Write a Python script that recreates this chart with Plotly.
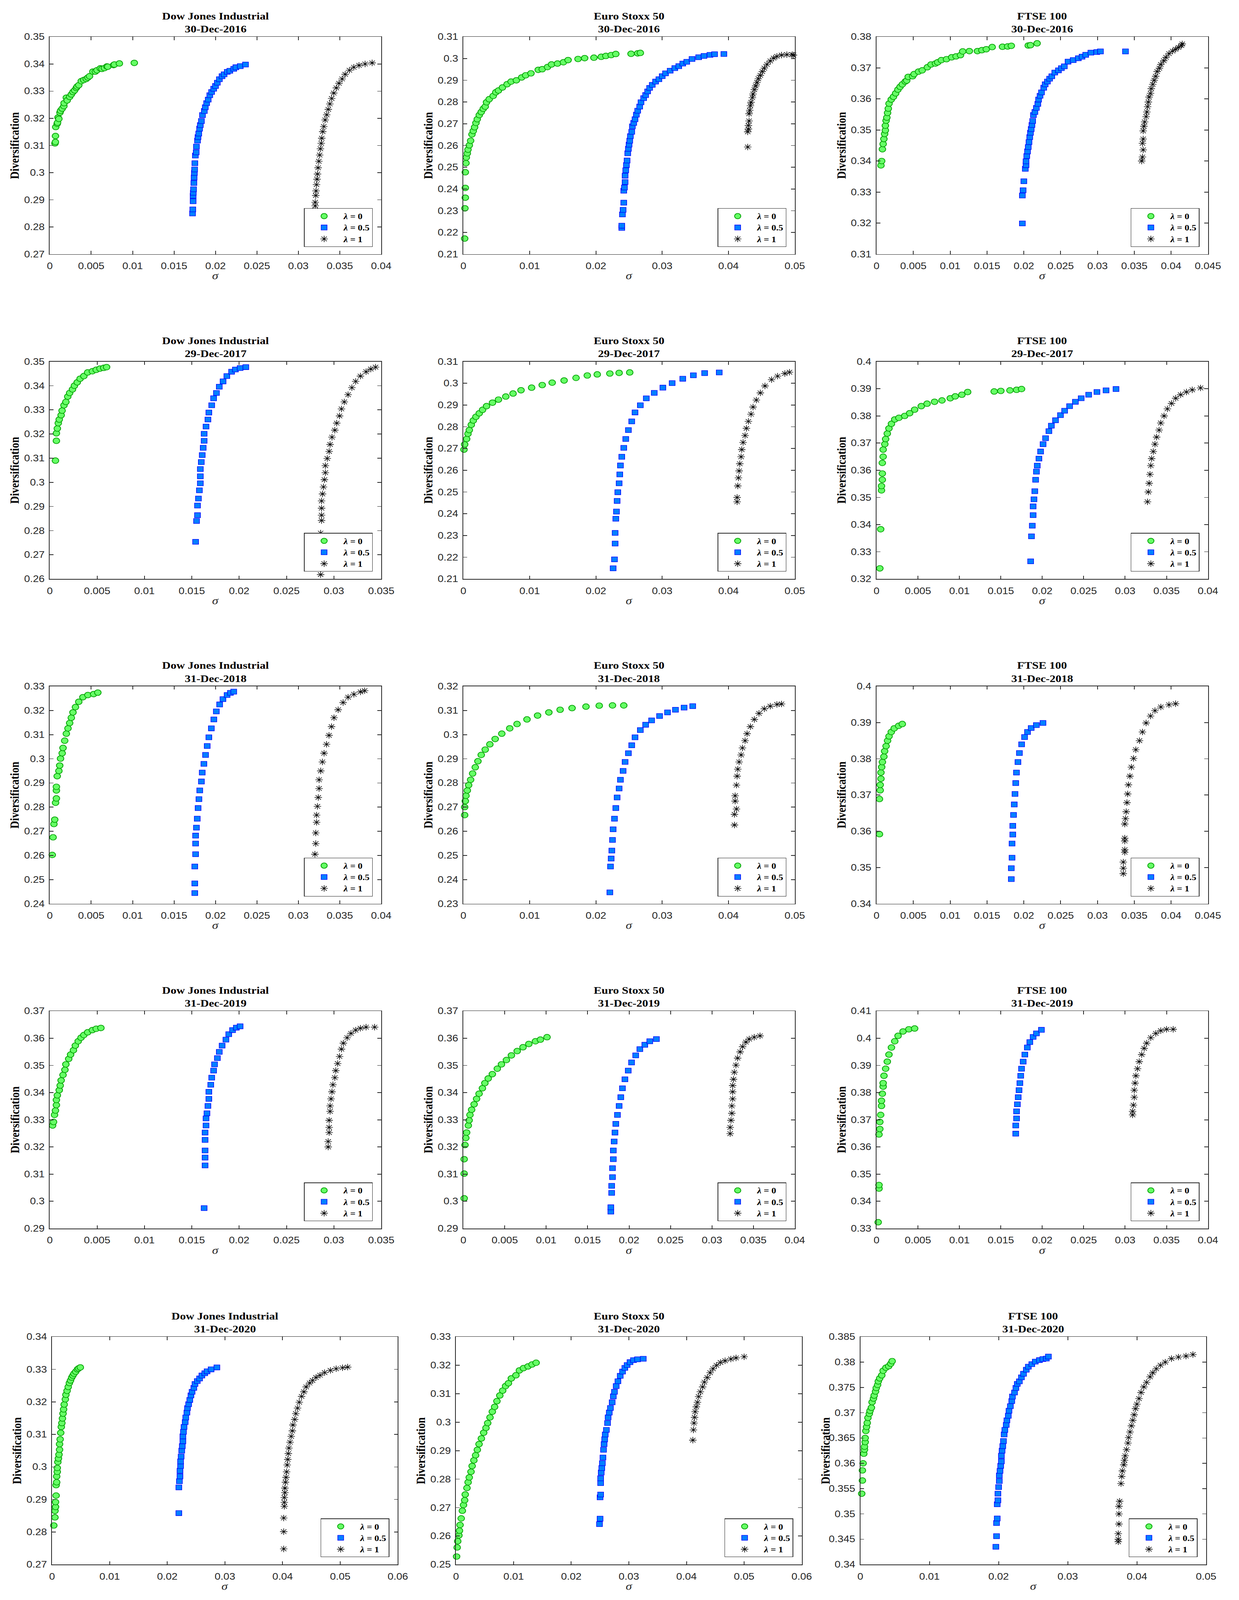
import plotly.graph_objects as go

W, H = 3172, 4798

# ---------------- data: (sigma, diversification) pairs ----------------
# Dow Jones Industrial, 30-Dec-2016
DJ16_L0 = [(0.00063,0.3108),(0.00068,0.3113),(0.00069,0.3135),(0.00072,0.3168),(0.0009,0.318),(0.00094,0.3184),(0.001,0.3203),(0.0011,0.3198),(0.00123,0.3221),(0.0013,0.3228),(0.0015,0.3236),(0.0017,0.3245),(0.00173,0.3256),(0.002,0.3276),(0.0021,0.3266),(0.0024,0.3279),(0.0026,0.3288),(0.0028,0.3297),(0.003,0.3303),(0.0032,0.3312),(0.0033,0.3317),(0.0035,0.3322),(0.0038,0.3337),(0.0041,0.3341),(0.0044,0.3345),(0.0046,0.335),(0.0048,0.3355),(0.0052,0.3372),(0.0055,0.3372),(0.0057,0.3377),(0.0061,0.3384),(0.0063,0.3382),(0.0066,0.3385),(0.0069,0.3391),(0.007,0.339),(0.0077,0.3396),(0.0078,0.3398),(0.0084,0.3402),(0.0102,0.3404)]
DJ16_L05 = [(0.01723,0.285),(0.01726,0.2865),(0.0173,0.2895),(0.0173,0.2915),(0.01732,0.2926),(0.01735,0.2939),(0.01739,0.2962),(0.01742,0.2982),(0.01745,0.2999),(0.01748,0.3012),(0.01751,0.3035),(0.01757,0.3063),(0.01767,0.3075),(0.0177,0.3096),(0.01783,0.3118),(0.01789,0.3131),(0.01798,0.3144),(0.01808,0.3162),(0.01817,0.3175),(0.0183,0.319),(0.01843,0.3212),(0.01865,0.3227),(0.01877,0.3241),(0.01893,0.3256),(0.01912,0.3269),(0.01931,0.3285),(0.01953,0.3297),(0.01978,0.3309),(0.02,0.3319),(0.02022,0.3331),(0.02047,0.3344),(0.02079,0.3355),(0.02104,0.3362),(0.02142,0.3371),(0.02173,0.3375),(0.0222,0.3382),(0.02246,0.3388),(0.02299,0.3392),(0.02362,0.3398)]
DJ16_L1 = [(0.03203,0.2863),(0.03203,0.2878),(0.03203,0.2891),(0.0321,0.2916),(0.03213,0.2933),(0.03219,0.2956),(0.03225,0.2976),(0.03231,0.2995),(0.03238,0.3018),(0.03247,0.3042),(0.03257,0.3065),(0.03266,0.3088),(0.03276,0.3108),(0.03282,0.3127),(0.03294,0.3151),(0.03307,0.317),(0.03323,0.3194),(0.03342,0.3213),(0.03361,0.3233),(0.0338,0.3253),(0.03402,0.3273),(0.03427,0.3293),(0.03458,0.3312),(0.0349,0.3329),(0.03528,0.3345),(0.03565,0.3362),(0.03616,0.3377),(0.03669,0.3388),(0.03732,0.3395),(0.03805,0.34),(0.0389,0.3404)]

# Euro Stoxx 50, 30-Dec-2016
ES16_L0 = [(0.0002,0.2172),(0.00024,0.2311),(0.0003,0.236),(0.0003,0.2405),(0.0003,0.2477),(0.0004,0.2519),(0.00045,0.2545),(0.0006,0.2564),(0.0007,0.2581),(0.0009,0.2601),(0.0011,0.2622),(0.0013,0.2651),(0.0015,0.2667),(0.0017,0.2684),(0.0019,0.2704),(0.0021,0.2721),(0.0024,0.274),(0.0027,0.2754),(0.003,0.2769),(0.0033,0.2779),(0.0035,0.2799),(0.0039,0.2813),(0.0045,0.2828),(0.0049,0.2845),(0.0053,0.2853),(0.0059,0.2867),(0.0066,0.2882),(0.0072,0.2894),(0.008,0.29),(0.0088,0.2913),(0.0094,0.2923),(0.0102,0.2932),(0.0113,0.2948),(0.0119,0.2951),(0.0127,0.2961),(0.0133,0.2973),(0.0142,0.2977),(0.0151,0.2983),(0.0158,0.2993),(0.0173,0.2998),(0.0183,0.3002),(0.0197,0.3004),(0.0208,0.3008),(0.0215,0.3012),(0.0223,0.3016),(0.023,0.3021),(0.0253,0.3022),(0.0263,0.3024),(0.0267,0.3026)]
ES16_L05 = [(0.0239,0.2221),(0.0239,0.2231),(0.024,0.2283),(0.0241,0.2304),(0.0242,0.2337),(0.0242,0.2392),(0.0243,0.2407),(0.0244,0.2432),(0.0244,0.2461),(0.0245,0.2486),(0.0246,0.251),(0.0247,0.2531),(0.0248,0.2564),(0.0249,0.2585),(0.025,0.2604),(0.0251,0.2622),(0.0252,0.2643),(0.0254,0.2663),(0.0255,0.2688),(0.0257,0.2704),(0.0259,0.2721),(0.0261,0.2742),(0.0263,0.276),(0.0266,0.2779),(0.0268,0.2799),(0.0272,0.2818),(0.0275,0.2832),(0.0278,0.2849),(0.0281,0.2865),(0.0285,0.2879),(0.029,0.2894),(0.0295,0.2905),(0.03,0.2919),(0.0305,0.2932),(0.0312,0.2944),(0.0319,0.2956),(0.0325,0.2965),(0.0331,0.2977),(0.0337,0.2985),(0.0345,0.2998),(0.0355,0.3006),(0.0363,0.3012),(0.0372,0.3017),(0.0379,0.302),(0.0393,0.3021)]
ES16_L1 = [(0.0429,0.2593),(0.0429,0.2663),(0.043,0.2676),(0.043,0.2692),(0.0431,0.2713),(0.0431,0.2746),(0.0432,0.2762),(0.0433,0.2783),(0.0434,0.2799),(0.0436,0.282),(0.0437,0.2837),(0.0439,0.2857),(0.0441,0.2874),(0.0443,0.289),(0.0445,0.2907),(0.0448,0.2923),(0.0451,0.294),(0.0454,0.2956),(0.0458,0.2973),(0.0463,0.2989),(0.0468,0.3002),(0.0473,0.301),(0.048,0.3016),(0.0488,0.3018),(0.0496,0.3018),(0.0498,0.3016)]

# FTSE 100, 30-Dec-2016
FT16_L0 = [(0.0006,0.3386),(0.0007,0.34),(0.0008,0.3438),(0.0009,0.3455),(0.001,0.3471),(0.0011,0.3487),(0.0012,0.3499),(0.0012,0.3514),(0.0013,0.353),(0.0014,0.354),(0.0015,0.3555),(0.0016,0.3569),(0.0017,0.3585),(0.002,0.3598),(0.0023,0.3607),(0.0026,0.3618),(0.0029,0.363),(0.0032,0.3639),(0.0035,0.3647),(0.0039,0.3656),(0.0041,0.3659),(0.0043,0.3671),(0.0049,0.3673),(0.0051,0.368),(0.0057,0.3688),(0.0062,0.3692),(0.0069,0.3702),(0.0074,0.3711),(0.008,0.3714),(0.0083,0.3718),(0.0088,0.3725),(0.0095,0.3728),(0.0102,0.3734),(0.0108,0.3737),(0.0114,0.3741),(0.0117,0.3753),(0.0126,0.3754),(0.0137,0.3754),(0.0143,0.3757),(0.0149,0.376),(0.0157,0.3767),(0.0171,0.3768),(0.0178,0.3769),(0.0183,0.3771),(0.0206,0.3772),(0.0209,0.3773),(0.0218,0.3779)]
FT16_L05 = [(0.0198,0.3199),(0.0198,0.3289),(0.0199,0.3306),(0.02,0.3335),(0.0202,0.3375),(0.0203,0.3387),(0.0203,0.3399),(0.0204,0.3416),(0.0205,0.3431),(0.0206,0.3445),(0.0207,0.3461),(0.0208,0.3477),(0.0209,0.3491),(0.021,0.3503),(0.0211,0.3516),(0.0212,0.3529),(0.0213,0.3548),(0.0215,0.3558),(0.0217,0.3571),(0.0219,0.3584),(0.022,0.3598),(0.0222,0.361),(0.0224,0.3621),(0.0227,0.3636),(0.0229,0.3647),(0.0232,0.3656),(0.0235,0.3665),(0.0238,0.3673),(0.0242,0.3685),(0.0247,0.3692),(0.0251,0.3699),(0.0255,0.3705),(0.026,0.372),(0.0267,0.3725),(0.0274,0.3731),(0.0279,0.3736),(0.0284,0.3742),(0.0291,0.3749),(0.0299,0.3751),(0.0304,0.3753),(0.0338,0.3753)]
FT16_L1 = [(0.036,0.34),(0.0361,0.3413),(0.0362,0.3436),(0.0361,0.3457),(0.0362,0.3471),(0.0362,0.3497),(0.0363,0.3512),(0.0364,0.3526),(0.0366,0.3543),(0.0367,0.3558),(0.0368,0.3575),(0.0369,0.359),(0.037,0.3606),(0.0372,0.3618),(0.0373,0.3633),(0.0375,0.3647),(0.0377,0.366),(0.0379,0.3673),(0.0381,0.3688),(0.0384,0.3699),(0.0386,0.3711),(0.039,0.3723),(0.0393,0.3734),(0.0397,0.3746),(0.0402,0.3754),(0.0406,0.376),(0.041,0.3766),(0.0414,0.3772),(0.0415,0.3777)]

# Dow Jones Industrial, 29-Dec-2017
DJ17_L0 = [(0.0006,0.309),(0.0007,0.3172),(0.0007,0.3203),(0.0008,0.3223),(0.0009,0.3245),(0.001,0.326),(0.0012,0.3278),(0.0013,0.3297),(0.0015,0.3319),(0.0017,0.3333),(0.0019,0.3355),(0.0021,0.337),(0.0024,0.3385),(0.0026,0.34),(0.0029,0.3414),(0.0032,0.3429),(0.0036,0.344),(0.004,0.3455),(0.0045,0.346),(0.0049,0.3466),(0.0053,0.3471),(0.0057,0.3474),(0.006,0.3477)]
DJ17_L05 = [(0.0154,0.2754),(0.0155,0.284),(0.0156,0.2864),(0.0156,0.2904),(0.0157,0.2933),(0.0158,0.2967),(0.0159,0.2996),(0.0159,0.3025),(0.0159,0.3055),(0.016,0.3084),(0.0161,0.3113),(0.0162,0.3143),(0.0163,0.3172),(0.0163,0.3201),(0.0165,0.3231),(0.0167,0.326),(0.0168,0.3289),(0.0171,0.3319),(0.0173,0.3348),(0.0176,0.337),(0.0179,0.3396),(0.0183,0.3418),(0.0187,0.344),(0.0192,0.3458),(0.0196,0.3467),(0.0201,0.3473),(0.0207,0.3477)]
DJ17_L1 = [(0.0286,0.2618),(0.0286,0.2768),(0.0286,0.279),(0.0287,0.2842),(0.0287,0.2864),(0.0287,0.2893),(0.0287,0.2923),(0.0288,0.2952),(0.0289,0.2981),(0.029,0.3011),(0.0291,0.304),(0.0291,0.3069),(0.0293,0.3099),(0.0295,0.3128),(0.0296,0.3157),(0.0298,0.3187),(0.0301,0.3216),(0.0303,0.3245),(0.0306,0.3275),(0.0308,0.3304),(0.0311,0.3333),(0.0315,0.3363),(0.0319,0.3392),(0.0323,0.3418),(0.0328,0.344),(0.0334,0.3458),(0.0339,0.3469),(0.0344,0.3477)]

# Euro Stoxx 50, 29-Dec-2017
ES17_L0 = [(0.0001,0.2695),(0.0002,0.2719),(0.0005,0.2744),(0.0007,0.2768),(0.0009,0.2785),(0.0012,0.2809),(0.0015,0.2829),(0.0019,0.2846),(0.0024,0.2862),(0.0029,0.2878),(0.0035,0.2895),(0.0044,0.2911),(0.0053,0.2925),(0.0064,0.2939),(0.0075,0.2953),(0.0087,0.2968),(0.0103,0.298),(0.0119,0.2992),(0.0134,0.3003),(0.0152,0.3013),(0.017,0.3025),(0.0187,0.3036),(0.0202,0.3041),(0.0221,0.3045),(0.0235,0.3048),(0.0251,0.305)]
ES17_L05 = [(0.0226,0.2149),(0.0228,0.219),(0.0229,0.2263),(0.0229,0.2312),(0.023,0.2377),(0.0231,0.241),(0.0232,0.2459),(0.0233,0.2499),(0.0235,0.254),(0.0236,0.2581),(0.0237,0.2622),(0.0239,0.2662),(0.0242,0.2703),(0.0245,0.2744),(0.0249,0.2785),(0.0254,0.2825),(0.0259,0.2866),(0.0267,0.2899),(0.0276,0.2931),(0.0288,0.2956),(0.0301,0.298),(0.0315,0.3001),(0.0331,0.3021),(0.0347,0.3037),(0.0364,0.3047),(0.0386,0.305)]
ES17_L1 = [(0.0413,0.2455),(0.0413,0.2475),(0.0414,0.2528),(0.0415,0.2565),(0.0416,0.2597),(0.0417,0.263),(0.0419,0.2662),(0.042,0.2695),(0.0422,0.2728),(0.0425,0.276),(0.0427,0.2793),(0.043,0.2825),(0.0434,0.2858),(0.0437,0.2891),(0.0442,0.2923),(0.0448,0.2956),(0.0455,0.2988),(0.0465,0.3017),(0.0474,0.3033),(0.0485,0.3045),(0.0492,0.3051)]

# FTSE 100, 29-Dec-2017
FT17_L0 = [(0.0004,0.3239),(0.0005,0.3383),(0.0006,0.3526),(0.0006,0.3542),(0.0007,0.3565),(0.0007,0.3588),(0.0007,0.3627),(0.0008,0.365),(0.0008,0.3676),(0.001,0.3696),(0.0011,0.3715),(0.0013,0.3735),(0.0015,0.3754),(0.0018,0.3771),(0.0022,0.3787),(0.0027,0.3793),(0.0034,0.38),(0.004,0.381),(0.0046,0.3823),(0.0054,0.3836),(0.0061,0.3845),(0.007,0.3852),(0.0079,0.3857),(0.0089,0.3865),(0.0095,0.3872),(0.0103,0.3878),(0.011,0.3888),(0.0142,0.389),(0.015,0.3892),(0.0161,0.3894),(0.0169,0.3896),(0.0175,0.3899)]
FT17_L05 = [(0.0186,0.3265),(0.0187,0.3357),(0.0188,0.3396),(0.0189,0.3435),(0.0189,0.3467),(0.019,0.3493),(0.0191,0.3523),(0.0192,0.3565),(0.0193,0.3595),(0.0194,0.3617),(0.0196,0.3643),(0.0198,0.3669),(0.0201,0.3696),(0.0204,0.3718),(0.0208,0.3744),(0.0211,0.3764),(0.0216,0.3784),(0.0222,0.3803),(0.0227,0.3819),(0.0233,0.3836),(0.024,0.3852),(0.0247,0.3865),(0.0256,0.3878),(0.0266,0.3888),(0.0277,0.3894),(0.0289,0.3899)]
FT17_L1 = [(0.0327,0.3484),(0.0328,0.352),(0.0329,0.3552),(0.033,0.3585),(0.0331,0.3617),(0.0332,0.3643),(0.0334,0.3669),(0.0336,0.3696),(0.0338,0.3722),(0.0341,0.3748),(0.0343,0.3774),(0.0347,0.38),(0.0351,0.3826),(0.0356,0.3846),(0.0361,0.3865),(0.0367,0.3878),(0.0374,0.3888),(0.0381,0.3896),(0.0391,0.3903)]

# Dow Jones Industrial, 31-Dec-2018
DJ18_L0 = [(0.0003,0.2602),(0.0004,0.2675),(0.0005,0.273),(0.0006,0.2748),(0.0007,0.2818),(0.0008,0.2836),(0.0008,0.2869),(0.0008,0.2884),(0.0009,0.2928),(0.0011,0.295),(0.0012,0.2972),(0.0013,0.3001),(0.0015,0.3023),(0.0016,0.3045),(0.0018,0.3075),(0.002,0.3104),(0.0022,0.3126),(0.0024,0.3148),(0.0026,0.317),(0.0028,0.3192),(0.0031,0.3214),(0.0035,0.3236),(0.004,0.3255),(0.0046,0.3264),(0.0053,0.3268),(0.0058,0.3274)]
DJ18_L05 = [(0.0175,0.2444),(0.0175,0.2484),(0.0175,0.2554),(0.0176,0.2605),(0.0176,0.2649),(0.0176,0.2682),(0.0177,0.2715),(0.0178,0.2752),(0.0179,0.2796),(0.018,0.2833),(0.0181,0.2869),(0.0183,0.2906),(0.0184,0.2943),(0.0186,0.2979),(0.0188,0.3016),(0.019,0.3053),(0.0192,0.3089),(0.0195,0.3126),(0.0198,0.3163),(0.0201,0.3196),(0.0205,0.3225),(0.0209,0.3247),(0.0214,0.3264),(0.0218,0.3273),(0.0222,0.3278)]
DJ18_L1 = [(0.032,0.2569),(0.032,0.2605),(0.0321,0.2649),(0.0321,0.2693),(0.0322,0.2737),(0.0322,0.2767),(0.0323,0.2803),(0.0324,0.284),(0.0325,0.2877),(0.0325,0.2913),(0.0327,0.295),(0.0329,0.2987),(0.0331,0.3023),(0.0334,0.306),(0.0337,0.3097),(0.034,0.3133),(0.0343,0.317),(0.0348,0.3203),(0.0354,0.3233),(0.036,0.3255),(0.0367,0.3267),(0.0375,0.3277),(0.038,0.3282)]

# Euro Stoxx 50, 31-Dec-2018
ES18_L0 = [(0.0002,0.2667),(0.0002,0.27),(0.0003,0.2725),(0.0004,0.2747),(0.0006,0.2769),(0.0008,0.2791),(0.0011,0.2813),(0.0014,0.2839),(0.0018,0.2865),(0.0022,0.289),(0.0027,0.2916),(0.0033,0.2938),(0.004,0.296),(0.0048,0.2982),(0.0058,0.3004),(0.007,0.3026),(0.0081,0.3044),(0.0096,0.3063),(0.0112,0.3079),(0.0129,0.3092),(0.0146,0.3103),(0.0164,0.311),(0.0185,0.3116),(0.0205,0.312),(0.0225,0.3121),(0.0242,0.3121)]
ES18_L05 = [(0.0221,0.2347),(0.0222,0.2454),(0.0223,0.2487),(0.0224,0.252),(0.0225,0.2564),(0.0226,0.2608),(0.0228,0.2652),(0.023,0.2696),(0.0232,0.274),(0.0235,0.2777),(0.0237,0.2813),(0.0241,0.285),(0.0244,0.2887),(0.0249,0.2923),(0.0254,0.2956),(0.0259,0.2989),(0.0267,0.3019),(0.0275,0.3041),(0.0284,0.3059),(0.0296,0.3077),(0.0308,0.3092),(0.032,0.3103),(0.0333,0.3112),(0.0346,0.3118)]
ES18_L1 = [(0.0409,0.2626),(0.0409,0.267),(0.0412,0.2692),(0.041,0.2725),(0.041,0.2747),(0.0412,0.2791),(0.0413,0.2828),(0.0414,0.2857),(0.0416,0.2887),(0.0419,0.2916),(0.0421,0.2945),(0.0425,0.2975),(0.0428,0.3004),(0.0433,0.3033),(0.0439,0.3063),(0.0446,0.3088),(0.0454,0.3107),(0.0463,0.3118),(0.0473,0.3125),(0.048,0.3127)]

# FTSE 100, 31-Dec-2018
FT18_L0 = [(0.0004,0.3592),(0.0004,0.3689),(0.0005,0.3713),(0.0005,0.3728),(0.0006,0.3745),(0.0006,0.3762),(0.0007,0.3777),(0.0008,0.3791),(0.001,0.3806),(0.0011,0.3821),(0.0013,0.3835),(0.0015,0.385),(0.0017,0.3862),(0.002,0.3874),(0.0024,0.3884),(0.003,0.3891),(0.0035,0.3896)]
FT18_L05 = [(0.0183,0.3468),(0.0183,0.3498),(0.0184,0.3527),(0.0184,0.3566),(0.0185,0.3591),(0.0185,0.3615),(0.0186,0.3645),(0.0187,0.3674),(0.0188,0.3703),(0.0189,0.3733),(0.019,0.3762),(0.0192,0.3791),(0.0194,0.3816),(0.0197,0.384),(0.0201,0.386),(0.0205,0.3874),(0.021,0.3885),(0.0217,0.3893),(0.0226,0.3899)]
FT18_L1 = [(0.0335,0.3483),(0.0335,0.3498),(0.0335,0.3515),(0.0337,0.3542),(0.0337,0.3549),(0.0337,0.3573),(0.0337,0.3581),(0.0337,0.362),(0.0338,0.3635),(0.0339,0.3654),(0.034,0.3679),(0.0341,0.3703),(0.0342,0.3728),(0.0344,0.3752),(0.0346,0.3777),(0.0349,0.3801),(0.0352,0.3825),(0.0357,0.385),(0.0361,0.3874),(0.0366,0.3899),(0.0372,0.3918),(0.0378,0.3933),(0.0386,0.3943),(0.0397,0.3949),(0.0406,0.3952)]

# Dow Jones Industrial, 31-Dec-2019
DJ19_L0 = [(0.0003,0.3279),(0.0004,0.3292),(0.0005,0.3318),(0.0006,0.3334),(0.0007,0.3354),(0.0007,0.3373),(0.0008,0.339),(0.001,0.3409),(0.0011,0.3426),(0.0012,0.3445),(0.0014,0.3465),(0.0016,0.3484),(0.0017,0.3504),(0.002,0.3524),(0.0022,0.354),(0.0025,0.3556),(0.0027,0.3573),(0.003,0.3589),(0.0033,0.3602),(0.0036,0.3612),(0.004,0.3622),(0.0045,0.363),(0.0049,0.3635),(0.0054,0.3638)]
DJ19_L05 = [(0.0163,0.2975),(0.0164,0.3132),(0.0164,0.3161),(0.0164,0.3187),(0.0164,0.3226),(0.0164,0.3253),(0.0165,0.3279),(0.0165,0.3305),(0.0166,0.3324),(0.0167,0.3351),(0.0168,0.3377),(0.0168,0.3403),(0.017,0.3429),(0.0171,0.3455),(0.0173,0.3481),(0.0174,0.3504),(0.0177,0.3527),(0.0179,0.355),(0.0182,0.3573),(0.0186,0.3595),(0.0189,0.3615),(0.0193,0.363),(0.0197,0.3639),(0.0201,0.3644)]
DJ19_L1 = [(0.0294,0.32),(0.0294,0.322),(0.0295,0.3253),(0.0295,0.3272),(0.0295,0.3298),(0.0296,0.3331),(0.0296,0.3351),(0.0297,0.3377),(0.0298,0.3403),(0.0299,0.3429),(0.0301,0.3455),(0.0302,0.3481),(0.0304,0.3507),(0.0306,0.3533),(0.0308,0.356),(0.031,0.3582),(0.0314,0.3602),(0.0318,0.3618),(0.0323,0.363),(0.0328,0.3637),(0.0334,0.3641),(0.0343,0.3641)]

# Euro Stoxx 50, 31-Dec-2019
ES19_L0 = [(0.0001,0.3011),(0.0001,0.3102),(0.0001,0.3155),(0.0002,0.3207),(0.0003,0.3233),(0.0004,0.3253),(0.0006,0.3279),(0.0007,0.3298),(0.0008,0.3318),(0.001,0.3337),(0.0013,0.3357),(0.0016,0.3377),(0.0019,0.3396),(0.0023,0.3416),(0.0026,0.3435),(0.003,0.3452),(0.0035,0.3468),(0.0041,0.3488),(0.0046,0.3504),(0.0052,0.352),(0.0058,0.3537),(0.0065,0.3553),(0.0072,0.3567),(0.0079,0.3579),(0.0087,0.3589),(0.0093,0.3595),(0.0101,0.3604)]
ES19_L05 = [(0.0178,0.2962),(0.0178,0.2978),(0.0179,0.3031),(0.0179,0.3057),(0.018,0.3089),(0.018,0.3122),(0.0181,0.3155),(0.0181,0.3187),(0.0182,0.322),(0.0183,0.3253),(0.0184,0.3285),(0.0186,0.3318),(0.0188,0.3351),(0.019,0.3383),(0.0192,0.3416),(0.0195,0.3449),(0.0199,0.3481),(0.0203,0.3511),(0.0208,0.3537),(0.0213,0.356),(0.0219,0.3576),(0.0225,0.3589),(0.0233,0.3597)]
ES19_L1 = [(0.0322,0.3249),(0.0322,0.3272),(0.0323,0.3298),(0.0324,0.3324),(0.0324,0.3351),(0.0325,0.3377),(0.0325,0.3403),(0.0325,0.3426),(0.0326,0.3449),(0.0327,0.3475),(0.0329,0.3501),(0.0331,0.3527),(0.0334,0.355),(0.0337,0.3569),(0.0341,0.3586),(0.0345,0.3597),(0.0351,0.3604),(0.0358,0.3609)]

# FTSE 100, 31-Dec-2019
FT19_L0 = [(0.0002,0.3323),(0.0003,0.3447),(0.0003,0.346),(0.0003,0.3646),(0.0004,0.3666),(0.0004,0.3692),(0.0005,0.3718),(0.0006,0.3751),(0.0006,0.377),(0.0007,0.3796),(0.0008,0.3822),(0.0008,0.3835),(0.0009,0.3862),(0.0011,0.3888),(0.0013,0.3914),(0.0015,0.394),(0.0018,0.3966),(0.0022,0.3989),(0.0026,0.4009),(0.0032,0.4025),(0.0039,0.4033),(0.0046,0.4036)]
FT19_L05 = [(0.0168,0.3649),(0.0168,0.3679),(0.0169,0.3705),(0.0169,0.3731),(0.017,0.3757),(0.0171,0.3783),(0.0172,0.3809),(0.0173,0.3835),(0.0174,0.3862),(0.0175,0.3888),(0.0177,0.3914),(0.0179,0.394),(0.0182,0.3966),(0.0185,0.3986),(0.0189,0.4005),(0.0193,0.4018),(0.0199,0.4031)]
FT19_L1 = [(0.0309,0.3718),(0.0309,0.3731),(0.031,0.3754),(0.0311,0.3783),(0.0311,0.3809),(0.0312,0.3835),(0.0313,0.3862),(0.0315,0.3888),(0.0317,0.3914),(0.032,0.394),(0.0323,0.3963),(0.0326,0.3982),(0.0331,0.4002),(0.0337,0.4018),(0.0343,0.4028),(0.035,0.4033),(0.0358,0.4033)]

# Dow Jones Industrial, 31-Dec-2020
DJ20_L0 = [(0.0003,0.282),(0.0005,0.2845),(0.0005,0.2865),(0.0006,0.2877),(0.0006,0.2892),(0.0007,0.2912),(0.0007,0.2944),(0.0008,0.2953),(0.0008,0.2971),(0.0009,0.2985),(0.0009,0.2997),(0.001,0.3015),(0.0011,0.3026),(0.0012,0.3038),(0.0013,0.3053),(0.0013,0.307),(0.0014,0.3085),(0.0015,0.3105),(0.0016,0.3123),(0.0017,0.3135),(0.0018,0.3149),(0.0019,0.3164),(0.002,0.3177),(0.0021,0.3192),(0.0023,0.3208),(0.0024,0.3222),(0.0026,0.3234),(0.0028,0.3246),(0.003,0.3258),(0.0032,0.3266),(0.0034,0.3275),(0.0036,0.3281),(0.0038,0.3287),(0.0041,0.3293),(0.0044,0.33),(0.0046,0.3303),(0.0049,0.3306)]
DJ20_L05 = [(0.022,0.2858),(0.022,0.2937),(0.0221,0.2956),(0.0222,0.2971),(0.0222,0.2988),(0.0223,0.3003),(0.0223,0.3017),(0.0224,0.3032),(0.0225,0.305),(0.0226,0.3064),(0.0227,0.3079),(0.0227,0.3094),(0.0228,0.3108),(0.0229,0.3123),(0.0231,0.3138),(0.0232,0.3152),(0.0234,0.3167),(0.0235,0.3181),(0.0237,0.3193),(0.0239,0.3206),(0.0241,0.322),(0.0243,0.3231),(0.0246,0.3243),(0.0248,0.3255),(0.0252,0.3264),(0.0256,0.3272),(0.026,0.3281),(0.0265,0.3288),(0.0269,0.3294),(0.0276,0.33),(0.0286,0.3306)]
DJ20_L1 = [(0.0402,0.2748),(0.0402,0.2801),(0.0402,0.2843),(0.0403,0.2879),(0.0403,0.2891),(0.0403,0.2906),(0.0404,0.2921),(0.0404,0.2935),(0.0405,0.2953),(0.0406,0.2968),(0.0407,0.2985),(0.0408,0.3006),(0.0409,0.3023),(0.041,0.3041),(0.0411,0.3058),(0.0413,0.3076),(0.0415,0.3094),(0.0417,0.3111),(0.0418,0.3129),(0.0421,0.3146),(0.0423,0.3164),(0.0426,0.3181),(0.0429,0.3199),(0.0433,0.3217),(0.0437,0.3231),(0.0441,0.3246),(0.0447,0.3258),(0.0452,0.3266),(0.0458,0.3275),(0.0465,0.3282),(0.0473,0.329),(0.0483,0.3297),(0.0493,0.3302),(0.0504,0.3305),(0.0513,0.3307)]

# Euro Stoxx 50, 31-Dec-2020
ES20_L0 = [(0.0001,0.2528),(0.0002,0.256),(0.0003,0.2582),(0.0005,0.2602),(0.0006,0.2619),(0.0007,0.2639),(0.0009,0.2662),(0.0011,0.2689),(0.0013,0.2709),(0.0015,0.2726),(0.0016,0.2746),(0.0019,0.2769),(0.0021,0.2789),(0.0023,0.2806),(0.0026,0.2826),(0.0028,0.2846),(0.0031,0.2866),(0.0034,0.2884),(0.0037,0.2903),(0.004,0.2923),(0.0044,0.2943),(0.0048,0.2963),(0.0052,0.298),(0.0055,0.2997),(0.0059,0.3017),(0.0063,0.3037),(0.0067,0.3054),(0.0071,0.3074),(0.0076,0.3094),(0.0081,0.3111),(0.0086,0.3127),(0.0091,0.3137),(0.0096,0.3154),(0.0104,0.3165),(0.011,0.3182),(0.0117,0.319),(0.0125,0.3196),(0.0132,0.3203),(0.0139,0.3209)]
ES20_L05 = [(0.0249,0.2642),(0.025,0.2661),(0.025,0.2736),(0.0251,0.2746),(0.0251,0.2786),(0.0251,0.2803),(0.0252,0.2823),(0.0253,0.2839),(0.0254,0.2856),(0.0255,0.2876),(0.0256,0.2903),(0.0257,0.2923),(0.0258,0.294),(0.0259,0.2957),(0.0261,0.2973),(0.0263,0.2997),(0.0264,0.3017),(0.0266,0.3034),(0.0268,0.305),(0.0271,0.307),(0.0273,0.3091),(0.0275,0.3107),(0.0278,0.3127),(0.0281,0.3144),(0.0285,0.3163),(0.0289,0.3178),(0.0293,0.3191),(0.0297,0.3201),(0.0302,0.3211),(0.0308,0.3218),(0.0315,0.3221),(0.0325,0.3223)]
ES20_L1 = [(0.0411,0.2937),(0.0412,0.2973),(0.0413,0.2997),(0.0414,0.3017),(0.0415,0.3037),(0.0417,0.3054),(0.0419,0.307),(0.0421,0.309),(0.0424,0.3107),(0.0428,0.3124),(0.0431,0.3141),(0.0436,0.3157),(0.0441,0.3174),(0.0446,0.3188),(0.0452,0.32),(0.0459,0.321),(0.0467,0.3216),(0.0477,0.3222),(0.0486,0.3226),(0.05,0.323)]

# FTSE 100, 31-Dec-2020
FT20_L0 = [(0.0002,0.354),(0.0003,0.3566),(0.0003,0.3586),(0.0004,0.36),(0.0005,0.3619),(0.0006,0.3627),(0.0006,0.3633),(0.0007,0.3642),(0.0007,0.365),(0.0008,0.3664),(0.0009,0.3672),(0.001,0.368),(0.0011,0.369),(0.0013,0.3698),(0.0014,0.3704),(0.0016,0.371),(0.0017,0.3721),(0.0019,0.3728),(0.002,0.3734),(0.0022,0.3742),(0.0023,0.3749),(0.0025,0.3755),(0.0026,0.3762),(0.0028,0.3768),(0.0031,0.3774),(0.0033,0.3783),(0.0037,0.3789),(0.0041,0.3792),(0.0044,0.3797),(0.0046,0.3802)]
FT20_L05 = [(0.0196,0.3435),(0.0197,0.3456),(0.0197,0.3482),(0.0198,0.3491),(0.0198,0.3519),(0.0199,0.3527),(0.0199,0.354),(0.02,0.3553),(0.0201,0.3565),(0.0201,0.3576),(0.0202,0.3585),(0.0203,0.3595),(0.0204,0.3604),(0.0204,0.3615),(0.0205,0.3625),(0.0206,0.3634),(0.0207,0.3644),(0.0208,0.3657),(0.0209,0.3666),(0.0211,0.3676),(0.0212,0.3685),(0.0214,0.3694),(0.0215,0.3704),(0.0217,0.3713),(0.0219,0.3723),(0.022,0.3732),(0.0223,0.374),(0.0225,0.3749),(0.0227,0.3757),(0.023,0.3762),(0.0233,0.377),(0.0236,0.3777),(0.024,0.3785),(0.0243,0.3791),(0.0248,0.3796),(0.0253,0.3801),(0.0259,0.3804),(0.0264,0.3806),(0.0269,0.3807),(0.0272,0.3811)]
FT20_L1 = [(0.0373,0.3445),(0.0373,0.345),(0.0373,0.3461),(0.0374,0.348),(0.0374,0.35),(0.0374,0.3515),(0.0375,0.3525),(0.0377,0.356),(0.0378,0.3574),(0.0379,0.3585),(0.0381,0.3597),(0.0382,0.3606),(0.0383,0.3615),(0.0385,0.3627),(0.0387,0.364),(0.0388,0.3651),(0.039,0.3662),(0.0392,0.3674),(0.0394,0.3685),(0.0396,0.3696),(0.0398,0.3708),(0.04,0.3717),(0.0403,0.3728),(0.0406,0.374),(0.041,0.3751),(0.0414,0.376),(0.0419,0.3771),(0.0423,0.3779),(0.0428,0.3787),(0.0434,0.3794),(0.0441,0.38),(0.045,0.3807),(0.046,0.381),(0.0471,0.3812),(0.0481,0.3815)]

# ---------------- labels and axis ticks ----------------
INDEX_NAMES = ["Dow Jones Industrial", "Euro Stoxx 50", "FTSE 100"]
DATES = ["30-Dec-2016", "29-Dec-2017", "31-Dec-2018", "31-Dec-2019", "31-Dec-2020"]
SERIES_NAMES = ["<b><i>λ</i> = 0</b>", "<b><i>λ</i> = 0.5</b>", "<b><i>λ</i> = 1</b>"]

X_TICKS_035 = [0, 0.005, 0.01, 0.015, 0.02, 0.025, 0.03, 0.035]
X_TICKS_040 = [0, 0.005, 0.01, 0.015, 0.02, 0.025, 0.03, 0.035, 0.04]
X_TICKS_045 = [0, 0.005, 0.01, 0.015, 0.02, 0.025, 0.03, 0.035, 0.04, 0.045]
X_TICKS_050 = [0, 0.01, 0.02, 0.03, 0.04, 0.05]
X_TICKS_060 = [0, 0.01, 0.02, 0.03, 0.04, 0.05, 0.06]

Y_TICKS_DJ16 = [0.27, 0.28, 0.29, 0.30, 0.31, 0.32, 0.33, 0.34, 0.35]
Y_TICKS_ES16 = [0.21, 0.22, 0.23, 0.24, 0.25, 0.26, 0.27, 0.28, 0.29, 0.30, 0.31]
Y_TICKS_FT16 = [0.31, 0.32, 0.33, 0.34, 0.35, 0.36, 0.37, 0.38]
Y_TICKS_DJ17 = [0.26, 0.27, 0.28, 0.29, 0.30, 0.31, 0.32, 0.33, 0.34, 0.35]
Y_TICKS_ES17 = [0.21, 0.22, 0.23, 0.24, 0.25, 0.26, 0.27, 0.28, 0.29, 0.30, 0.31]
Y_TICKS_FT17 = [0.32, 0.33, 0.34, 0.35, 0.36, 0.37, 0.38, 0.39, 0.40]
Y_TICKS_DJ18 = [0.24, 0.25, 0.26, 0.27, 0.28, 0.29, 0.30, 0.31, 0.32, 0.33]
Y_TICKS_ES18 = [0.23, 0.24, 0.25, 0.26, 0.27, 0.28, 0.29, 0.30, 0.31, 0.32]
Y_TICKS_FT18 = [0.34, 0.35, 0.36, 0.37, 0.38, 0.39, 0.40]
Y_TICKS_DJ19 = [0.29, 0.30, 0.31, 0.32, 0.33, 0.34, 0.35, 0.36, 0.37]
Y_TICKS_ES19 = [0.29, 0.30, 0.31, 0.32, 0.33, 0.34, 0.35, 0.36, 0.37]
Y_TICKS_FT19 = [0.33, 0.34, 0.35, 0.36, 0.37, 0.38, 0.39, 0.40, 0.41]
Y_TICKS_DJ20 = [0.27, 0.28, 0.29, 0.30, 0.31, 0.32, 0.33, 0.34]
Y_TICKS_ES20 = [0.25, 0.26, 0.27, 0.28, 0.29, 0.30, 0.31, 0.32, 0.33]
Y_TICKS_FT20 = [0.34, 0.345, 0.35, 0.355, 0.36, 0.365, 0.37, 0.375, 0.38, 0.385]

PANELS = [
    (0, 0, [DJ16_L0, DJ16_L05, DJ16_L1], X_TICKS_040, Y_TICKS_DJ16),
    (0, 1, [ES16_L0, ES16_L05, ES16_L1], X_TICKS_050, Y_TICKS_ES16),
    (0, 2, [FT16_L0, FT16_L05, FT16_L1], X_TICKS_045, Y_TICKS_FT16),
    (1, 0, [DJ17_L0, DJ17_L05, DJ17_L1], X_TICKS_035, Y_TICKS_DJ17),
    (1, 1, [ES17_L0, ES17_L05, ES17_L1], X_TICKS_050, Y_TICKS_ES17),
    (1, 2, [FT17_L0, FT17_L05, FT17_L1], X_TICKS_040, Y_TICKS_FT17),
    (2, 0, [DJ18_L0, DJ18_L05, DJ18_L1], X_TICKS_040, Y_TICKS_DJ18),
    (2, 1, [ES18_L0, ES18_L05, ES18_L1], X_TICKS_050, Y_TICKS_ES18),
    (2, 2, [FT18_L0, FT18_L05, FT18_L1], X_TICKS_045, Y_TICKS_FT18),
    (3, 0, [DJ19_L0, DJ19_L05, DJ19_L1], X_TICKS_035, Y_TICKS_DJ19),
    (3, 1, [ES19_L0, ES19_L05, ES19_L1], X_TICKS_040, Y_TICKS_ES19),
    (3, 2, [FT19_L0, FT19_L05, FT19_L1], X_TICKS_040, Y_TICKS_FT19),
    (4, 0, [DJ20_L0, DJ20_L05, DJ20_L1], X_TICKS_060, Y_TICKS_DJ20),
    (4, 1, [ES20_L0, ES20_L05, ES20_L1], X_TICKS_060, Y_TICKS_ES20),
    (4, 2, [FT20_L0, FT20_L05, FT20_L1], X_TICKS_050, Y_TICKS_FT20),
]

# ---------------- styling ----------------
MARKERS = [
    dict(symbol="circle", size=17, color="#66FF66", line=dict(color="#00A000", width=2)),
    dict(symbol="square", size=15, color="#0080FF", line=dict(color="#0000FF", width=1.5)),
    dict(symbol="asterisk-open", size=16, color="black", line=dict(color="black", width=1.6)),
]
AX_COLOR = "#262626"
TICK_FONT = dict(family="Liberation Sans, Arial, sans-serif", size=27, color=AX_COLOR)
SERIF = "Liberation Serif, DejaVu Serif, serif"


def box(row, col):
    """pixel box (left, top, width, height) of a panel"""
    if row < 4:
        return [121, 1194, 2266][col], 96 + 980 * row, 860, 656
    return [127, 1175, 2224][col], 4019, 897, 687


def fmt(v):
    s = f"{v:.4f}".rstrip("0").rstrip(".")
    return s if s else "0"


fig = go.Figure()
layout = dict(
    width=W, height=H, margin=dict(l=0, r=0, t=0, b=0), autosize=False,
    paper_bgcolor="white", plot_bgcolor="white", annotations=[],
)

for i, (row, col, series, xt, yt) in enumerate(PANELS):
    n = i + 1
    sfx = "" if n == 1 else str(n)
    leg = "legend" if n == 1 else f"legend{n}"
    left, top, w, h = box(row, col)
    x0, x1 = left / W, (left + w) / W
    y0, y1 = 1 - (top + h) / H, 1 - top / H

    for pts, mk, name in zip(series, MARKERS, SERIES_NAMES):
        xs = [p[0] for p in pts]
        ys = [p[1] for p in pts]
        fig.add_trace(go.Scatter(
            x=xs, y=ys, mode="markers", marker=mk, name=name,
            xaxis=f"x{sfx}", yaxis=f"y{sfx}", legend=leg, showlegend=True,
            cliponaxis=False,
        ))

    common = dict(
        showline=True, linecolor=AX_COLOR, linewidth=1.5, mirror="ticks",
        ticks="inside", ticklen=10, tickwidth=1.5, tickcolor=AX_COLOR,
        showgrid=False, zeroline=False, tickfont=TICK_FONT,
    )
    layout[f"xaxis{sfx}"] = dict(
        common, domain=[x0, x1], anchor=f"y{sfx}", range=[xt[0], xt[-1]],
        tickmode="array", tickvals=xt, ticktext=[fmt(v) for v in xt],
        ticklabelstandoff=11,
    )
    layout[f"yaxis{sfx}"] = dict(
        common, domain=[y0, y1], anchor=f"x{sfx}", range=[yt[0], yt[-1]],
        tickmode="array", tickvals=yt, ticktext=[fmt(v) for v in yt],
        ticklabelstandoff=6,
    )

    # legend (inside, bottom-right)
    layout[leg] = dict(
        x=(left + w - 22) / W, y=1 - (top + h - 22) / H,
        xanchor="right", yanchor="bottom", xref="paper", yref="paper",
        bgcolor="white", bordercolor=AX_COLOR, borderwidth=1.5,
        font=dict(family=SERIF, size=24, color="black"),
        itemwidth=90, tracegroupgap=0, traceorder="normal",
    )

    cx = (left + w / 2) / W
    layout["annotations"] += [
        dict(text=f"<b>{INDEX_NAMES[col]}</b>", x=cx, y=1 - (top - 63) / H,
             xref="paper", yref="paper", showarrow=False, xanchor="center", yanchor="middle",
             font=dict(family=SERIF, size=30, color="black")),
        dict(text=f"<b>{DATES[row]}</b>", x=cx, y=1 - (top - 24) / H,
             xref="paper", yref="paper", showarrow=False, xanchor="center", yanchor="middle",
             font=dict(family=SERIF, size=30, color="black")),
        dict(text="<b>Diversification</b>", x=(left - 91) / W, y=1 - (top + h / 2) / H,
             xref="paper", yref="paper", showarrow=False, textangle=-90,
             xanchor="center", yanchor="middle",
             font=dict(family=SERIF, size=32, color="black")),
        dict(text="<i>σ</i>", x=cx, y=1 - (top + h + 65) / H,
             xref="paper", yref="paper", showarrow=False, xanchor="center", yanchor="middle",
             font=dict(family=SERIF, size=32, color=AX_COLOR)),
    ]

fig.update_layout(**layout)

# Fit the fixed-size figure exactly into whatever viewport the page is shown in.
FIT_SCRIPT = """
(function(){
  var gd = document.getElementById('{plot_id}');
  document.documentElement.style.margin = '0';
  document.documentElement.style.padding = '0';
  document.body.style.margin = '0';
  document.body.style.padding = '0';
  document.body.style.overflow = 'hidden';
  gd.style.width = '%dpx';
  gd.style.height = '%dpx';
  var vw = window.innerWidth || document.documentElement.clientWidth;
  var vh = window.innerHeight || document.documentElement.clientHeight;
  var sx = vw / %d, sy = vh / %d;
  if (sx > 0.2 && sy > 0.2) {
    gd.style.transformOrigin = '0 0';
    gd.style.transform = 'scale(' + sx + ',' + sy + ')';
  }
})();
""" % (W, H, W, H)

fig.write_html("out.html", post_script=FIT_SCRIPT, config={"displayModeBar": False})
